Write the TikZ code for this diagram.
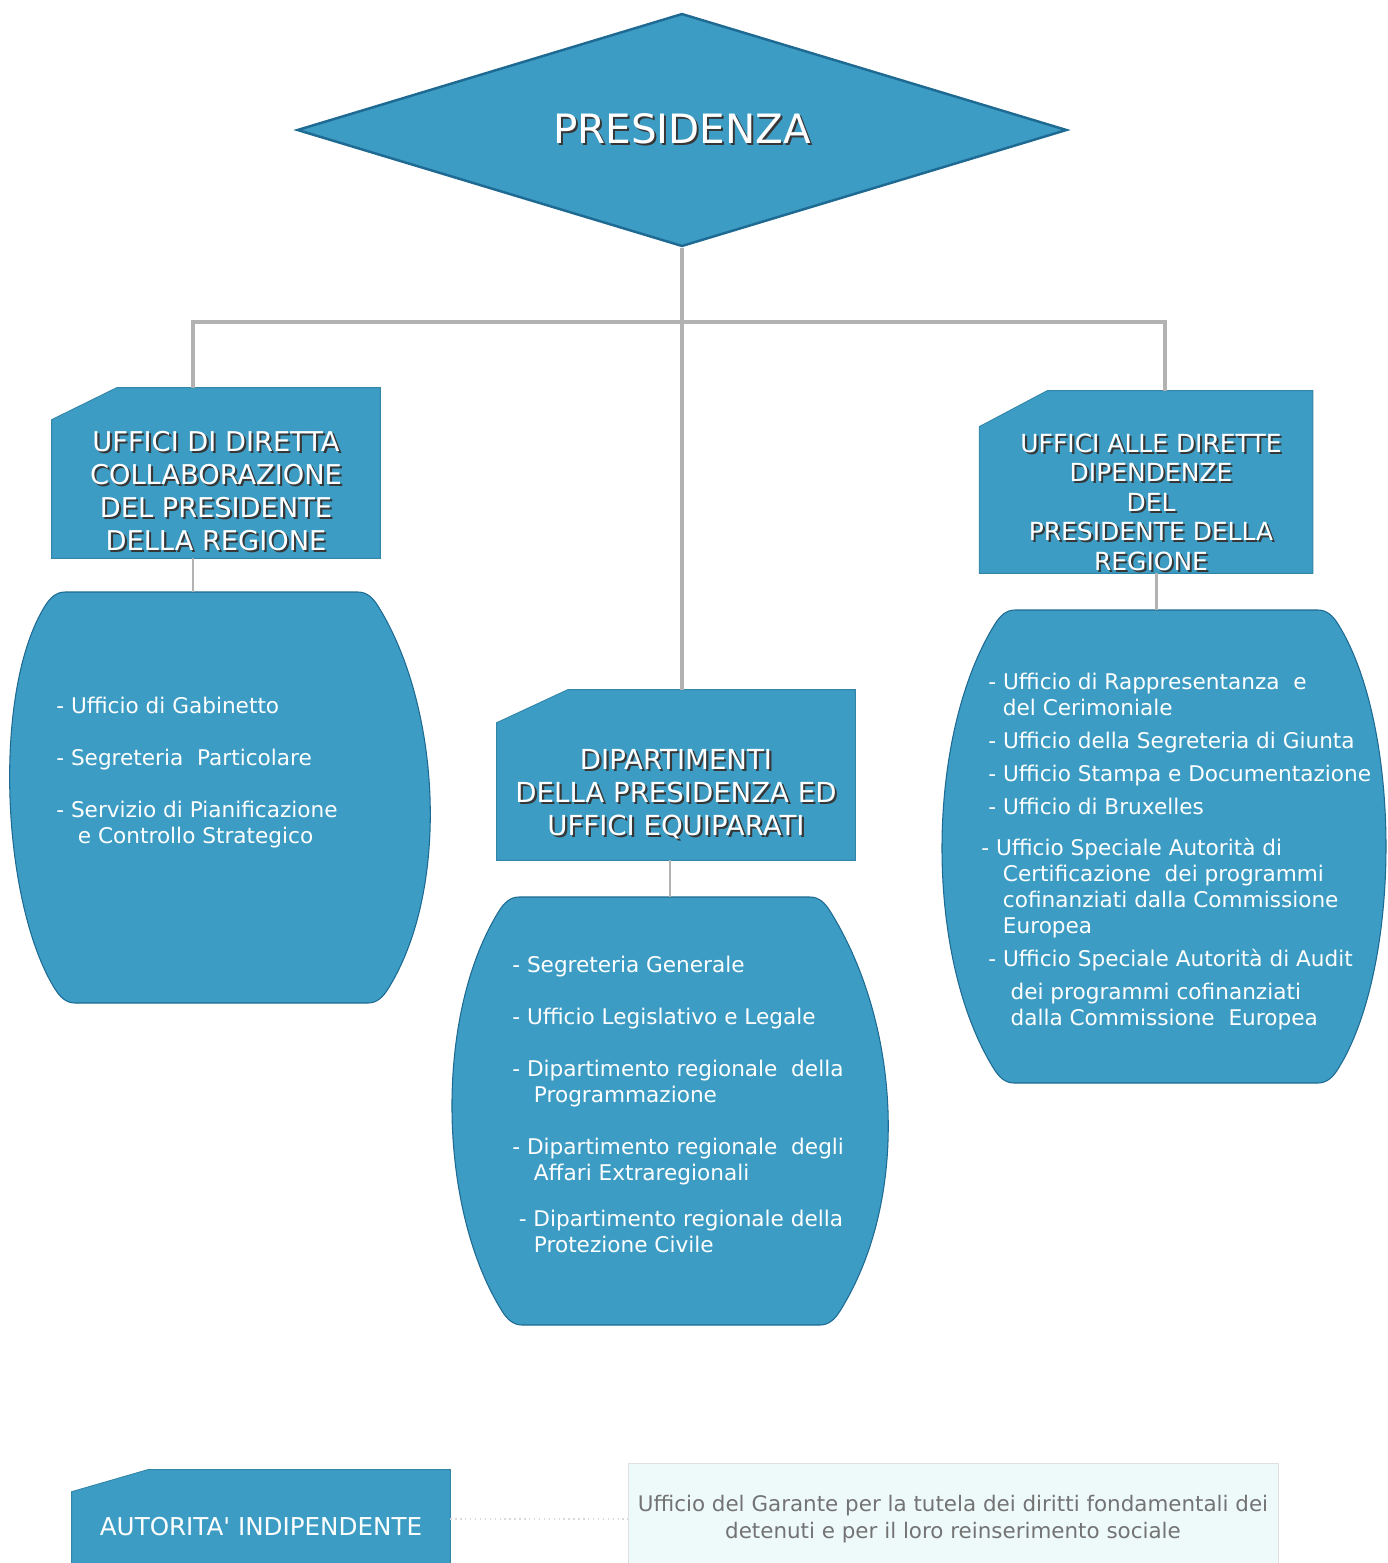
\documentclass[tikz,border=0pt]{standalone}
\usepackage{fontspec}
\setmainfont{DejaVu Sans}
\usetikzlibrary{shapes.geometric,calc,backgrounds}

\definecolor{boxblue}{RGB}{60,156,196}
\definecolor{edgeblue}{RGB}{30,106,146}
\definecolor{linkgray}{RGB}{178,178,178}
\definecolor{palecyan}{RGB}{238,250,250}
\definecolor{shadowgray}{RGB}{55,55,55}
\definecolor{textgray}{RGB}{115,115,115}

% white caps with a dark drop shadow
\newcommand{\shd}[1]{\rlap{\textcolor{shadowgray}{\kern1.2pt\raisebox{-1.2pt}{#1}}}#1}
% box with its top left corner cut off: node, cut width, cut height
\newcommand{\cutbox}[3]{%
  \draw[headfill] ($(#1.north west)+(0,#3)$) -- ($(#1.north west)+(#2,0)$)
    -- (#1.north east) -- (#1.south east) -- (#1.south west) -- cycle;}
% flat topped barrel: top left/right x, bottom left/right x, top y, bottom y, widest left/right x
\newcommand{\drawbarrel}[8]{%
  \pgfmathsetmacro{\kr}{(#8-0.5*(#2+#4)-8)/3.75}
  \pgfmathsetmacro{\kl}{(0.5*(#1+#3)-8-#7)/3.75}
  \draw[barrelfill] ({#1+12},#5) -- ({#2-12},#5)
    .. controls ({#2-3},#5) and ({#2+3},{#5+6}) .. ({#2+8},{#5+14})
    .. controls ({#2+8+5*\kr},{#5+14+8*\kr}) and ({#4+8+5*\kr},{#6-14-8*\kr}) .. ({#4+8},{#6-14})
    .. controls ({#4+3},{#6-6}) and ({#4-3},#6) .. ({#4-12},#6)
    -- ({#3+12},#6)
    .. controls ({#3+3},#6) and ({#3-3},{#6-6}) .. ({#3-8},{#6-14})
    .. controls ({#3-8-5*\kl},{#6-14-8*\kl}) and ({#1-8-5*\kl},{#5+14+8*\kl}) .. ({#1-8},{#5+14})
    .. controls ({#1-3},{#5+6}) and ({#1+3},#5) .. ({#1+12},#5) -- cycle;}

\tikzset{
  headbox/.style={rectangle, inner sep=0pt},
  headfill/.style={fill=boxblue, draw=boxblue!85!black, line width=0.5pt},
  headtext/.style={text=white, align=center, inner sep=0pt},
  barrelfill/.style={fill=boxblue, draw=edgeblue, line width=0.6pt},
  listtext/.style={text=white, align=left, anchor=north west, inner sep=0pt,
    font=\fontsize{12.3}{14.8}\selectfont},
  link/.style={draw=linkgray, line width=2.8pt},
  stub/.style={draw=linkgray, line width=1.7pt},
}

\begin{document}
\begin{tikzpicture}[x=0.02cm,y=-0.02cm]
  \useasboundingbox (0,0) rectangle (1388,1563);
  \clip (0,0) rectangle (1388,1563);

  % top
  \node[diamond, aspect=3.3, minimum width=15.4cm, minimum height=4.66cm,
    fill=boxblue, draw=edgeblue, line width=1.4pt, inner sep=0pt, text=white,
    font=\fontsize{23}{27}\selectfont] (pres) at (682,130) {\shd{PRESIDENZA}};

  % header boxes
  \node[headbox, minimum width=6.56cm, minimum height=3.4cm] (lbox) at (216,473) {};
  \node[headtext, font=\fontsize{15.5}{18.8}\selectfont] (ltxt) at (216,492)
    {\shd{UFFICI DI DIRETTA}\\ \shd{COLLABORAZIONE}\\ \shd{DEL PRESIDENTE}\\ \shd{DELLA REGIONE}};

  \node[headbox, minimum width=7.16cm, minimum height=3.4cm] (cbox) at (676,775) {};
  \node[headtext, font=\fontsize{15.7}{18.8}\selectfont] (ctxt) at (676,795)
    {\shd{DIPARTIMENTI}\\ \shd{DELLA PRESIDENZA ED}\\ \shd{UFFICI EQUIPARATI}};

  \node[headbox, minimum width=6.66cm, minimum height=3.64cm] (rbox) at (1146,482) {};
  \node[headtext, font=\fontsize{14.2}{16.8}\selectfont] (rtxt) at (1151,503)
    {\shd{UFFICI ALLE DIRETTE}\\ \shd{DIPENDENZE}\\ \shd{DEL}\\ \shd{PRESIDENTE DELLA}\\ \shd{REGIONE}};

  \begin{scope}[on background layer]
    \cutbox{lbox}{65}{32}
    \cutbox{cbox}{71}{33}
    \cutbox{rbox}{68}{36}
  \end{scope}

  % tree
  \coordinate (lrise) at (193,322);
  \coordinate (rrise) at (1165,322);
  \draw[link] (pres.south) -- (pres.south |- cbox.north);
  \draw[link] (lbox.north -| lrise) -- (lrise) -- (rrise) -- (rbox.north -| rrise);

  % barrels
  \coordinate (ltop) at (193,592);
  \coordinate (ctop) at (670,897);
  \coordinate (rtop) at (1156,610);
  \drawbarrel{53}{370}{63}{380}{592}{1003}{10}{430}
  \drawbarrel{507}{822}{510}{832}{897}{1325}{452}{888}
  \drawbarrel{1003}{1330}{1002}{1330}{610}{1083}{942}{1386}
  \draw[stub] (lbox.south -| ltop) -- (ltop);
  \draw[stub] (cbox.south -| ctop) -- (ctop);
  \draw[stub] (rbox.south -| rtop) -- (rtop);

  \node[listtext] (llist) at (56,697) {%
    - Ufficio di Gabinetto\\[14.8pt]
    - Segreteria~~Particolare\\[14.8pt]
    - Servizio di Pianificazione\\
    \hspace*{1em}e Controllo Strategico};

  \node[listtext] (clist) at (512,956) {%
    - Segreteria Generale\\[14.8pt]
    - Ufficio Legislativo e Legale\\[14.8pt]
    - Dipartimento regionale~~della\\
    \hspace*{1em}Programmazione\\[14.8pt]
    - Dipartimento regionale~~degli\\
    \hspace*{1em}Affari Extraregionali\\[11.4pt]
    \hspace*{0.3em}- Dipartimento regionale della\\
    \hspace*{1em}Protezione Civile};

  \node[listtext] (rlist) at (981,673) {%
    \hspace*{0.33em}- Ufficio di Rappresentanza~~e\\
    \hspace*{1em}del Cerimoniale\\[4pt]
    \hspace*{0.33em}- Ufficio della Segreteria di Giunta\\[4pt]
    \hspace*{0.33em}- Ufficio Stampa e Documentazione\\[4pt]
    \hspace*{0.33em}- Ufficio di Bruxelles\\[8.5pt]
    - Ufficio Speciale Autorità di\\
    \hspace*{1em}Certificazione~~dei programmi\\
    \hspace*{1em}cofinanziati dalla Commissione\\
    \hspace*{1em}Europea\\[4pt]
    \hspace*{0.33em}- Ufficio Speciale Autorità di Audit\\[4pt]
    \hspace*{1.35em}dei programmi cofinanziati\\
    \hspace*{1.35em}dalla Commissione~~Europea};

  % bottom row
  \node[headbox, minimum width=7.56cm, minimum height=2.28cm, text=white,
    font=\fontsize{14}{16}\selectfont] (abox) at (261,1527) {AUTORITA\textquotesingle{} INDIPENDENTE};
  \begin{scope}[on background layer]
    \cutbox{abox}{76}{22}
  \end{scope}
  \node[rectangle, fill=palecyan, draw=black!12, line width=0.5pt, minimum width=13cm,
    minimum height=2.24cm, inner sep=0pt, align=center, text=textgray,
    font=\fontsize{12.2}{15.4}\selectfont] (garante) at (953,1519)
    {Ufficio del Garante per la tutela dei diritti fondamentali dei\\
     detenuti e per il loro reinserimento sociale};
  \draw[black!15, dotted, line width=0.8pt] (abox.east |- garante.west) -- (garante.west);
\end{tikzpicture}
\end{document}
